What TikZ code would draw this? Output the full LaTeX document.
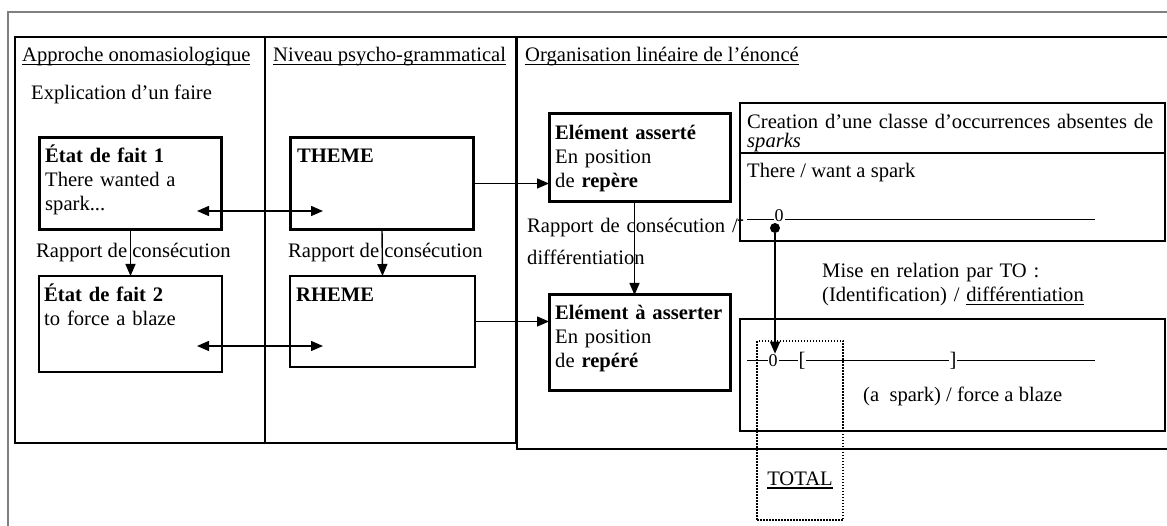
\documentclass[tikz,border=0pt]{standalone}
\usepackage{fontspec}
\setmainfont{Liberation Serif}
\usetikzlibrary{arrows.meta,calc}
\newcommand{\undl}[1]{\setbox0\hbox{#1}\rlap{\rule[-3.5pt]{\wd0}{1.1pt}}\box0}
\tikzset{
	txt/.style={anchor=base west, inner sep=0pt, font=\fontsize{20.6pt}{24pt}\selectfont},
	block/.style={txt, align=left, text width=#1},
	col/.style={draw, line width=2.6pt, inner sep=0pt, outer sep=0pt},
	boldbox/.style={draw, line width=3pt, inner sep=0pt, outer sep=0pt},
	thinbox/.style={draw, line width=1.8pt, inner sep=0pt, outer sep=0pt},
	linebox/.style={draw, line width=2pt, inner sep=0pt, outer sep=0pt},
	dotbox/.style={draw, line width=1.5pt, dash pattern=on 1.5pt off 1.5pt, inner sep=0pt},
	arr/.style={line width=1.4pt, -{Triangle[length=12pt,width=10pt]}},
	dbl/.style={line width=1.4pt, {Triangle[length=12pt,width=10pt]}-{Triangle[length=12pt,width=10pt]}},
	tick/.style={inner sep=1pt, fill=white, font=\fontsize{#1}{#1}\selectfont}
}

\begin{document}
\begin{tikzpicture}[x=1pt,y=-1pt]
	%%%%% START %%%%%
	\def\hy{62}
	\def\lineA{220}
	\def\lineB{361}
	\def\lend{1095}
	
	\useasboundingbox (0,0) rectangle (1167,526);
	\draw[gray, line width=1.5pt] (8,540) -- (8,12) -- (1180,12);
	
	% the three columns
	\node[col, minimum width=250pt, minimum height=406pt] (colA) at (140,240) {};
	\node[col, minimum width=251pt, minimum height=406pt] (colB) at (390.5,240) {};
	\node[col, minimum width=663pt, minimum height=412pt] (colC) at (848.5,243) {};
	
	\node[txt] (headA) at (22,\hy) {\undl{Approche onomasiologique}};
	\node[txt] (headB) at (273,\hy) {\undl{Niveau psycho-grammatical}};
	\node[txt] (headC) at (525,\hy) {\undl{Organisation linéaire de l’énoncé}};
	
	\node[txt] (explic) at (31,100) {Explication d’un faire};
	
	% left column
	\node[boldbox, minimum width=182pt, minimum height=92pt] (etat1) at (130.5,183.5) {};
	\node[block=175pt] (etat1txt) at (45,163) {\textbf{État de fait 1}\\There wanted a\\spark...};
	\node[thinbox, minimum width=183pt, minimum height=96pt] (etat2) at (130.5,324) {};
	\node[block=175pt] (etat2txt) at (44,302) {\textbf{État de fait 2}\\to force a blaze};
	\node[txt] (rapA) at (36,258) {Rapport de consécution};
	\draw[arr] (etat1.south) -- (etat2.north);
	
	% middle column
	\node[boldbox, minimum width=183pt, minimum height=92pt] (theme) at (382,183.5) {};
	\node[txt] (themetxt) at (297,163) {\textbf{THEME}};
	\node[thinbox, minimum width=185pt, minimum height=91pt] (rheme) at (382.5,321.5) {};
	\node[txt] (rhemetxt) at (296,302) {\textbf{RHEME}};
	\node[txt] (rapB) at (288,258) {Rapport de consécution};
	\draw[arr] (theme.south) -- (rheme.north);
	
	\coordinate (l1) at (197,211);
	\coordinate (r1) at (323,211);
	\coordinate (l2) at (197,346);
	\coordinate (r2) at (323,346);
	\draw[dbl] (l1) -- (r1);
	\draw[dbl] (l2) -- (r2);
	
	% right column
	\node[boldbox, minimum width=181pt, minimum height=88pt] (asserte) at (639.5,158) {};
	\node[block=175pt] (assertetxt) at (555,140) {\textbf{Elément asserté}\\En position\\de \textbf{repère}};
	\node[boldbox, minimum width=181pt, minimum height=95pt] (aasserter) at (639.5,342.5) {};
	\node[block=175pt] (aassertertxt) at (555,320) {\textbf{Elément à asserter}\\En position\\de \textbf{repéré}};
	\node[block=220pt] (rapC) at (527,233) {Rapport de consécution /\\[8pt]différentiation};
	
	\draw[arr] (theme.east) -- (theme.east -| asserte.west);
	\draw[arr] (rheme.east) -- (rheme.east -| aasserter.west);
	\draw[arr] ([xshift=-5pt]asserte.south) -- ([xshift=-5pt]aasserter.north);
	
	\node[linebox, minimum width=425pt, minimum height=138pt] (creation) at (952.5,172) {};
	\draw[line width=2pt] ([yshift=-50pt]creation.north west) -- ([yshift=-50pt]creation.north east);
	\node[block=430pt, font=\fontsize{20.6pt}{19pt}\selectfont] (creatxt) at (747,129) {Creation d’une classe d’occurrences absentes de\\\textit{sparks}};
	\node[txt] (wanttxt) at (747,178) {There / want a spark};
	
	\node[txt] (dashA) at (737,226) {-};
	\draw[line width=1pt] (747,\lineA) -- (\lend,\lineA);
	\node[tick=18pt] (zeroA) at (779,216) {0};
	\node[circle, fill=black, inner sep=0pt, minimum size=10pt] (dot) at (775,228) {};
	
	\node[block=340pt] (misetxt) at (822,278) {Mise en relation par TO :\\(Identification) / \undl{différentiation}};
	
	\node[linebox, minimum width=425pt, minimum height=112pt] (relation) at (952.5,375) {};
	\draw[line width=1pt] (747,\lineB) -- (\lend,\lineB);
	\node[tick=18pt] (zeroB) at (773,\lineB) {0};
	\node[tick=20.6pt] (openB) at (802,\lineB) {[};
	\node[tick=20.6pt] (closeB) at (953,\lineB) {]};
	\node[txt] (blazetxt) at (863,402) {(a\ \ spark) / force a blaze};
	
	\draw[arr] (dot) -- (dot |- zeroB.north);
	
	\node[dotbox, minimum width=86pt, minimum height=179pt] (total) at (800,430.5) {};
	\node[txt, anchor=base] (totaltxt) at (800,485) {\undl{TOTAL}};
	%%%%% END %%%%%
\end{tikzpicture}
\end{document}
